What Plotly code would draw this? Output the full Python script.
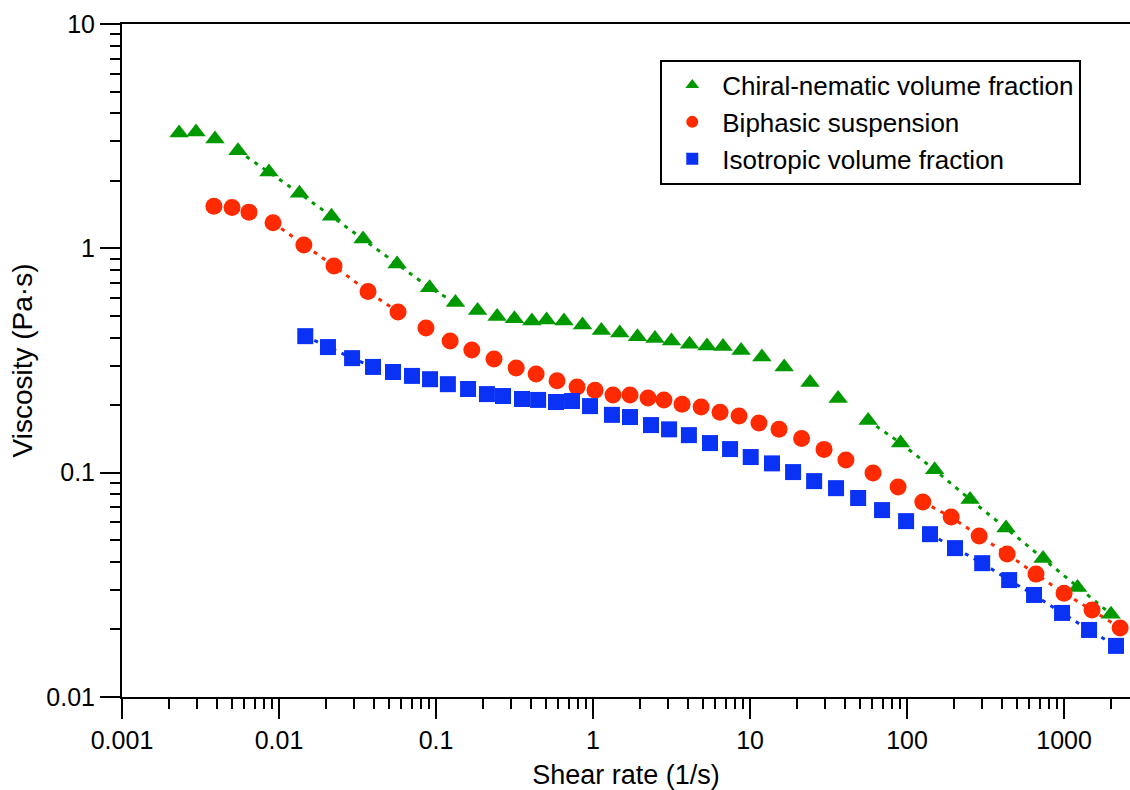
import plotly.graph_objects as go

# Steady-shear viscosity curves (shear rate in 1/s, viscosity in Pa·s)
chiral_rate = [0.00231, 0.00296, 0.00391, 0.00548, 0.00863, 0.0135, 0.0216, 0.0343, 0.0565, 0.0910,
               0.133, 0.184, 0.245, 0.316, 0.408, 0.506, 0.653, 0.857, 1.13, 1.48,
               1.92, 2.48, 3.16, 4.12, 5.32, 6.73, 8.77, 11.9, 16.5, 24.1,
               36.4, 56.5, 90.9, 150, 252, 427, 735, 1219, 1991]
chiral_visc = [3.27, 3.30, 3.07, 2.72, 2.19, 1.76, 1.39, 1.10, 0.851, 0.668,
               0.573, 0.528, 0.497, 0.486, 0.474, 0.479, 0.474, 0.455, 0.430, 0.419,
               0.404, 0.396, 0.386, 0.374, 0.367, 0.365, 0.350, 0.328, 0.296, 0.252,
               0.214, 0.171, 0.1355, 0.103, 0.0759, 0.0566, 0.0414, 0.0308, 0.0234]

biphasic_rate = [0.00385, 0.00502, 0.00644, 0.00916, 0.0144, 0.0224, 0.0369, 0.0573, 0.0863, 0.123,
                 0.169, 0.234, 0.324, 0.434, 0.590, 0.791, 1.03, 1.34, 1.72, 2.24,
                 2.83, 3.69, 4.88, 6.44, 8.51, 11.4, 15.3, 21.3, 29.6, 40.8,
                 60.7, 87.7, 126, 191, 288, 434, 663, 1000, 1507, 2275]
biphasic_visc = [1.54, 1.52, 1.45, 1.30, 1.035, 0.834, 0.642, 0.520, 0.441, 0.386,
                 0.352, 0.321, 0.293, 0.275, 0.257, 0.241, 0.233, 0.222, 0.222, 0.215,
                 0.211, 0.202, 0.196, 0.186, 0.179, 0.1665, 0.156, 0.142, 0.127, 0.114,
                 0.0996, 0.0863, 0.0740, 0.0634, 0.0522, 0.0434, 0.0353, 0.0290, 0.0244, 0.0203]

isotropic_rate = [0.0147, 0.0205, 0.0292, 0.0397, 0.0532, 0.0703, 0.0916, 0.119, 0.160, 0.211,
                  0.267, 0.353, 0.447, 0.581, 0.735, 0.957, 1.32, 1.72, 2.34, 3.05,
                  4.08, 5.56, 7.46, 10.1, 13.8, 18.8, 25.6, 35.3, 48.8, 69.3,
                  98.6, 140, 202, 301, 447, 644, 971, 1443, 2143]
isotropic_visc = [0.406, 0.363, 0.324, 0.296, 0.281, 0.270, 0.261, 0.248, 0.236, 0.224,
                  0.2196, 0.213, 0.211, 0.2065, 0.2086, 0.198, 0.181, 0.177, 0.163, 0.156,
                  0.147, 0.1355, 0.1274, 0.1174, 0.110, 0.1006, 0.0917, 0.0853, 0.0771, 0.0681,
                  0.0608, 0.0532, 0.0461, 0.0395, 0.0332, 0.0285, 0.0237, 0.0199, 0.0169]

# Index ranges of the power-law regions traced with dotted guide lines
chiral_guides = [(3, 11), (31, 39)]
biphasic_guides = [(3, 8), (32, 40)]
isotropic_guides = [(0, 4), (31, 39)]

x_tick_vals = [0.001, 0.01, 0.1, 1, 10, 100, 1000]
x_tick_text = ["0.001", "0.01", "0.1", "1", "10", "100", "1000"]
y_tick_vals = [0.01, 0.1, 1, 10]
y_tick_text = ["0.01", "0.1", "1", "10"]

FONT = "Liberation Sans, Arial, Helvetica, sans-serif"

series = [
    ("Chiral-nematic volume fraction", chiral_rate, chiral_visc, chiral_guides,
     "#009A00", "triangle-up", 17),
    ("Biphasic suspension", biphasic_rate, biphasic_visc, biphasic_guides,
     "#FF2A00", "circle", 17),
    ("Isotropic volume fraction", isotropic_rate, isotropic_visc, isotropic_guides,
     "#0A32F5", "square", 16),
]

fig = go.Figure()

# dotted guides go underneath the markers
for name, xs, ys, guides, color, symbol, size in series:
    for a, b in guides:
        fig.add_trace(go.Scatter(
            x=xs[a:b], y=ys[a:b], mode="lines",
            line=dict(color=color, width=3, dash="4px,6px"),
            showlegend=False, hoverinfo="skip",
        ))

for name, xs, ys, guides, color, symbol, size in series:
    fig.add_trace(go.Scatter(
        x=xs, y=ys, mode="markers", name=name,
        marker=dict(symbol=symbol, size=size, color=color, line=dict(width=0)),
    ))


def minor_vals(lo, hi):
    return [m * 10.0 ** e for e in range(lo, hi) for m in range(2, 10)]


fig.update_xaxes(
    type="log", range=[-3, 3.42],
    tickmode="array", tickvals=x_tick_vals, ticktext=x_tick_text,
    ticks="outside", ticklen=20, tickwidth=2, tickcolor="black",
    minor=dict(tickmode="array", tickvals=minor_vals(-3, 4), ticks="outside",
               ticklen=10, tickwidth=2, tickcolor="black", showgrid=False),
    showline=True, linewidth=2, linecolor="black", mirror=True,
    showgrid=False, zeroline=False,
    tickfont=dict(family=FONT, size=25, color="black"),
    title=dict(text="Shear rate (1/s)", font=dict(family=FONT, size=27, color="black"),
               standoff=15),
)
fig.update_yaxes(
    type="log", range=[-2, 1],
    tickmode="array", tickvals=y_tick_vals, ticktext=y_tick_text,
    ticks="outside", ticklen=20, tickwidth=2, tickcolor="black",
    minor=dict(tickmode="array", tickvals=minor_vals(-2, 1), ticks="outside",
               ticklen=10, tickwidth=2, tickcolor="black", showgrid=False),
    showline=True, linewidth=2, linecolor="black", mirror=False,
    showgrid=False, zeroline=False,
    tickfont=dict(family=FONT, size=25, color="black"),
    title=dict(text="Viscosity (Pa·s)", font=dict(family=FONT, size=28, color="black"),
               standoff=6),
)

fig.update_layout(
    width=1130, height=790,
    margin=dict(l=122, r=0, t=24, b=93),
    paper_bgcolor="white", plot_bgcolor="white",
    font=dict(family=FONT, color="black"),
    legend=dict(
        x=0.534, y=0.947, xanchor="left", yanchor="top",
        bgcolor="white", bordercolor="black", borderwidth=2,
        font=dict(family=FONT, size=26, color="black"),
        itemwidth=50, itemsizing="constant", tracegroupgap=0,
    ),
    showlegend=True,
)

fig.write_html("out.html")
